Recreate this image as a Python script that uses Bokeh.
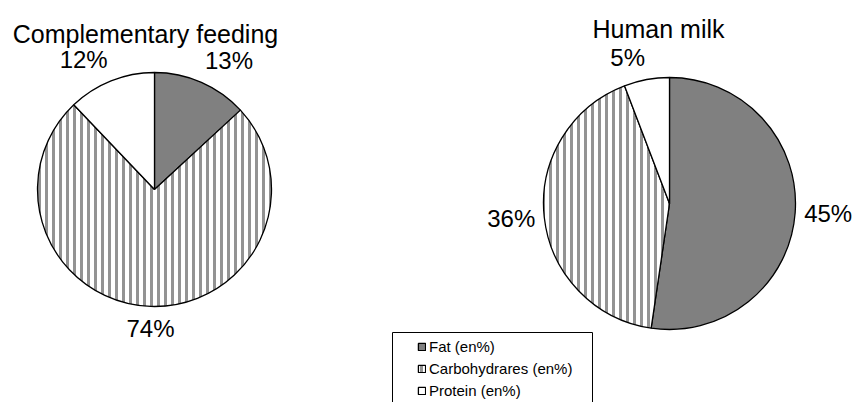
import math
from bokeh.plotting import figure
from bokeh.models import ColumnDataSource, Range1d, Legend, LegendItem
from bokeh.embed import file_html
from bokeh.resources import INLINE
from bokeh.core.properties import value

# ---------------- data ----------------
categories = ["Fat (en%)", "Carbohydrares (en%)", "Protein (en%)"]
chart_titles = ["Complementary feeding", "Human milk"]
complementary_feeding = [13, 74, 12]
human_milk = [45, 36, 5]
series = [complementary_feeding, human_milk]

# ---------------- layout (page pixels) ----------------
W, H = 855, 402
centers = [(154, 189), (669, 203)]
radii = [117, 126]
title_pos = [(145, 33), (658, 28)]
label_gap = 9
FONT = "Liberation Sans"

styles = [
    dict(fill_color="#808080"),
    dict(fill_color="white", hatch_pattern="|", hatch_color="#939393", hatch_scale=7, hatch_weight=3),
    dict(fill_color="white"),
]

p = figure(width=W, height=H, output_backend="svg", toolbar_location=None,
           x_range=Range1d(0, W), y_range=Range1d(0, H),
           x_axis_location=None, y_axis_location=None, min_border=0,
           outline_line_color=None, background_fill_color="white",
           border_fill_color="white")
p.xgrid.visible = False
p.ygrid.visible = False

renderers = []
for k, cat in enumerate(categories):
    xs, ys, rs, sa, ea = [], [], [], [], []
    for c, vals in enumerate(series):
        tot = float(sum(vals))
        c0 = sum(vals[:k]) / tot
        c1 = sum(vals[:k + 1]) / tot
        xs.append(centers[c][0])
        ys.append(H - centers[c][1])
        rs.append(radii[c])
        sa.append(math.pi / 2 - 2 * math.pi * c0)
        ea.append(math.pi / 2 - 2 * math.pi * c1)
    src = ColumnDataSource(dict(x=xs, y=ys, r=rs, sa=sa, ea=ea))
    r = p.wedge(x="x", y="y", radius="r", start_angle="sa", end_angle="ea",
                direction="clock", source=src, line_color="black", line_width=1.3,
                **styles[k])
    renderers.append(r)

# percentage labels
for c, vals in enumerate(series):
    tot = float(sum(vals))
    cx, cy = centers[c]
    R = radii[c] + label_gap
    for k, v in enumerate(vals):
        mid = (sum(vals[:k]) + v / 2.0) / tot * 2 * math.pi
        s, co = math.sin(mid), math.cos(mid)
        align = "center" if abs(s) < 0.1 else ("left" if s > 0 else "right")
        base = "middle" if abs(co) < 0.3 else ("bottom" if co > 0 else "top")
        p.text(x=[cx + R * s], y=[H - cy + R * co], text=[f"{v}%"],
               text_align=align, text_baseline=base,
               text_font=value(FONT), text_font_size="24px", text_color="black")

# chart titles
for c, t in enumerate(chart_titles):
    p.text(x=[title_pos[c][0]], y=[H - title_pos[c][1]], text=[t],
           text_align="center", text_baseline="alphabetic",
           text_font=value(FONT), text_font_size="25px", text_color="black")

# legend box
p.quad(left=[392], right=[592], top=[H - 332], bottom=[H - 420],
       fill_color=None, line_color="black", line_width=1)

legend = Legend(items=[LegendItem(label=cat, renderers=[renderers[k]]) for k, cat in enumerate(categories)],
                location=(417, 3), padding=0, margin=0, spacing=5,
                glyph_width=9, glyph_height=9, label_height=17, label_standoff=3,
                label_text_font=FONT, label_text_font_size="15px", label_text_color="black",
                border_line_color=None, background_fill_alpha=0)
p.add_layout(legend, "center")

open("out.html", "w").write(file_html(p, INLINE))
